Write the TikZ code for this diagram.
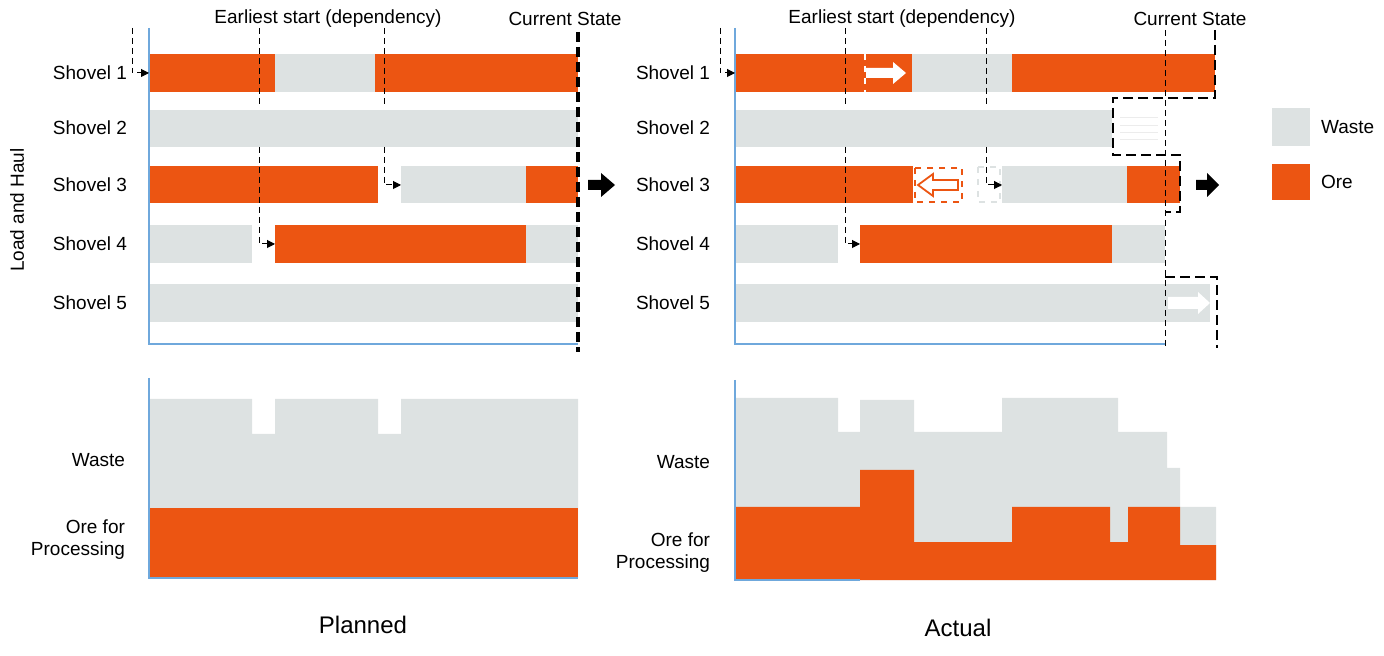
\documentclass[tikz,border=0pt]{standalone}
\usepackage{fontspec}
\setmainfont{Liberation Sans}
\usetikzlibrary{arrows.meta}
\definecolor{ore}{HTML}{EC5512}
\definecolor{waste}{HTML}{DDE2E2}
\definecolor{axisblue}{HTML}{6FA8DC}
\tikzset{
 orebar/.style={fill=ore,draw=none},
 wastebar/.style={fill=waste,draw=none},
 ax/.style={draw=axisblue,line width=0.6pt},
 dep/.style={densely dashed,line width=0.5pt,-{Triangle[length=4pt,width=4pt]}},
 depl/.style={densely dashed,line width=0.5pt},
 cur/.style={dashed,line width=1.6pt,dash pattern=on 5pt off 2.5pt},
 lbl/.style={font=\fontsize{9.5}{11}\selectfont},
 ttl/.style={font=\fontsize{12}{14}\selectfont},
 fat/.style={fill=black,draw=none}
}
\begin{document}
\begin{tikzpicture}[x=0.5pt,y=-0.5pt]
\useasboundingbox (0,0) rectangle (1384,656);
% ---------- Left top ----------
\fill[orebar] (149,54) rectangle (275,92);
\fill[wastebar] (275,54) rectangle (375,92);
\fill[orebar] (375,54) rectangle (578,92);
\fill[wastebar] (149,110) rectangle (578,147);
\fill[orebar] (149,166) rectangle (378,203);
\fill[wastebar] (401,166) rectangle (526,203);
\fill[orebar] (526,166) rectangle (578,203);
\fill[wastebar] (149,225) rectangle (252,263);
\fill[orebar] (275,225) rectangle (526,263);
\fill[wastebar] (526,225) rectangle (578,263);
\fill[wastebar] (149,284) rectangle (578,322);
\draw[ax] (149,28) -- (149,344) -- (578,344);
\node[lbl,anchor=east] (l1) at (134,73) {Shovel 1};
\node[lbl,anchor=east] (l2) at (134,128) {Shovel 2};
\node[lbl,anchor=east] (l3) at (134,185) {Shovel 3};
\node[lbl,anchor=east] (l4) at (134,244) {Shovel 4};
\node[lbl,anchor=east] (l5) at (134,303) {Shovel 5};
\node[lbl,rotate=90] (lh) at (17,210) {Load and Haul};
\node[lbl] (es1) at (328,19) {Earliest start (dependency)};
\node[lbl] (cs1) at (565,19) {Current State};
\coordinate (a1) at (132,28); \coordinate (a1e) at (149,73);
\draw[dep] (a1) |- (a1e);
\draw[depl] (259,28) -- (259,107);
\coordinate (b1) at (259,147); \coordinate (b1e) at (275,244);
\draw[dep] (b1) |- (b1e);
\draw[depl] (384,28) -- (384,107);
\coordinate (c1) at (384,147); \coordinate (c1e) at (401,185);
\draw[dep] (c1) |- (c1e);
\draw[cur] (578,32) -- (578,352);
\fill[fat] (588,180) -- (601,180) -- (601,173) -- (615,185) -- (601,197) -- (601,190) -- (588,190) -- cycle;
% ---------- Left bottom ----------
\fill[wastebar] (149,399) -- (252,399) -- (252,434) -- (275,434) -- (275,399) -- (378,399) -- (378,434) -- (401,434) -- (401,399) -- (578,399) -- (578,578) -- (149,578) -- cycle;
\fill[orebar] (149,508) rectangle (578,578);
\draw[ax] (149,378) -- (149,578) -- (578,578);
\node[lbl,anchor=east] (w1) at (132,460) {Waste};
\node[lbl,anchor=east,align=right] (o1) at (132,540) {Ore for\\Processing};
\node[ttl] (pl) at (363,625) {Planned};
% ---------- Right top ----------
\fill[orebar] (735,54) rectangle (912,92);
\fill[wastebar] (912,54) rectangle (1012,92);
\fill[orebar] (1012,54) rectangle (1215,92);
\draw[white,line width=1pt,dashed] (865,54) -- (865,92);
\fill[white] (866,68) -- (893,68) -- (893,62) -- (906,73) -- (893,84) -- (893,78) -- (866,78) -- cycle;
\fill[wastebar] (735,110) rectangle (1112,147);
\draw[white!85!gray,line width=0.5pt] (1120,118) -- (1158,118) (1120,126) -- (1158,126) (1120,133) -- (1158,133) (1120,140) -- (1158,140);
\fill[orebar] (735,166) rectangle (913,203);
\draw[ore,dashed,line width=1.2pt,fill=white] (915,168) rectangle (962,202);
\draw[ore,line width=0.9pt,fill=white] (958,180) -- (933,180) -- (933,174) -- (918,185) -- (933,196) -- (933,190) -- (958,190) -- cycle;
\draw[waste,dashed,line width=1pt] (978,167) rectangle (1000,202);
\fill[wastebar] (1002,166) rectangle (1127,203);
\fill[orebar] (1127,166) rectangle (1180,203);
\fill[wastebar] (735,225) rectangle (838,263);
\fill[orebar] (860,225) rectangle (1112,263);
\fill[wastebar] (1112,225) rectangle (1165,263);
\fill[wastebar] (735,284) rectangle (1210,322);
\fill[white] (1168,297) -- (1198,297) -- (1198,292) -- (1210,303) -- (1198,314) -- (1198,309) -- (1168,309) -- cycle;
\draw[ax] (735,28) -- (735,344) -- (1165,344);
\node[lbl,anchor=east] (r1) at (717,73) {Shovel 1};
\node[lbl,anchor=east] (r2) at (717,128) {Shovel 2};
\node[lbl,anchor=east] (r3) at (717,185) {Shovel 3};
\node[lbl,anchor=east] (r4) at (717,244) {Shovel 4};
\node[lbl,anchor=east] (r5) at (717,303) {Shovel 5};
\node[lbl] (es2) at (902,19) {Earliest start (dependency)};
\node[lbl] (cs2) at (1190,19) {Current State};
\coordinate (a2) at (720,28); \coordinate (a2e) at (735,73);
\draw[dep] (a2) |- (a2e);
\draw[depl] (845,28) -- (845,107);
\coordinate (b2) at (845,147); \coordinate (b2e) at (860,244);
\draw[dep] (b2) |- (b2e);
\draw[depl] (986,28) -- (986,107);
\coordinate (c2) at (986,147); \coordinate (c2e) at (1002,185);
\draw[dep] (c2) |- (c2e);
\draw[depl] (1165,30) -- (1165,346);
\draw[cur,line width=1.3pt] (1215,30) -- (1215,98) -- (1113,98) -- (1113,155) -- (1180,155) -- (1180,212) -- (1165,212);
\draw[cur,line width=1.3pt] (1165,277) -- (1217,277) -- (1217,348);
\fill[fat] (1196,180) -- (1207,180) -- (1207,173) -- (1219,185) -- (1207,197) -- (1207,190) -- (1196,190) -- cycle;
% legend
\fill[wastebar] (1272,108) rectangle (1310,146);
\node[lbl,anchor=west] (lw) at (1314,127) {Waste};
\fill[orebar] (1272,164) rectangle (1310,200);
\node[lbl,anchor=west] (lo) at (1314,182) {Ore};
% ---------- Right bottom ----------
\fill[wastebar] (735,398) -- (838,398) -- (838,432) -- (860,432) -- (860,400) -- (914,400) -- (914,432) -- (1002,432) -- (1002,398) -- (1118,398) -- (1118,432) -- (1167,432) -- (1167,468) -- (1180,468) -- (1180,507) -- (1216,507) -- (1216,580) -- (735,580) -- cycle;
\fill[orebar] (735,507) -- (860,507) -- (860,470) -- (914,470) -- (914,542) -- (1012,542) -- (1012,507) -- (1110,507) -- (1110,542) -- (1128,542) -- (1128,507) -- (1180,507) -- (1180,545) -- (1216,545) -- (1216,580) -- (735,580) -- cycle;
\draw[ax] (735,380) -- (735,580) -- (860,580);
\node[lbl,anchor=east] (w2) at (717,462) {Waste};
\node[lbl,anchor=east,align=right] (o2) at (717,553) {Ore for\\Processing};
\node[ttl] (ac) at (958,628) {Actual};
\end{tikzpicture}
\end{document}
